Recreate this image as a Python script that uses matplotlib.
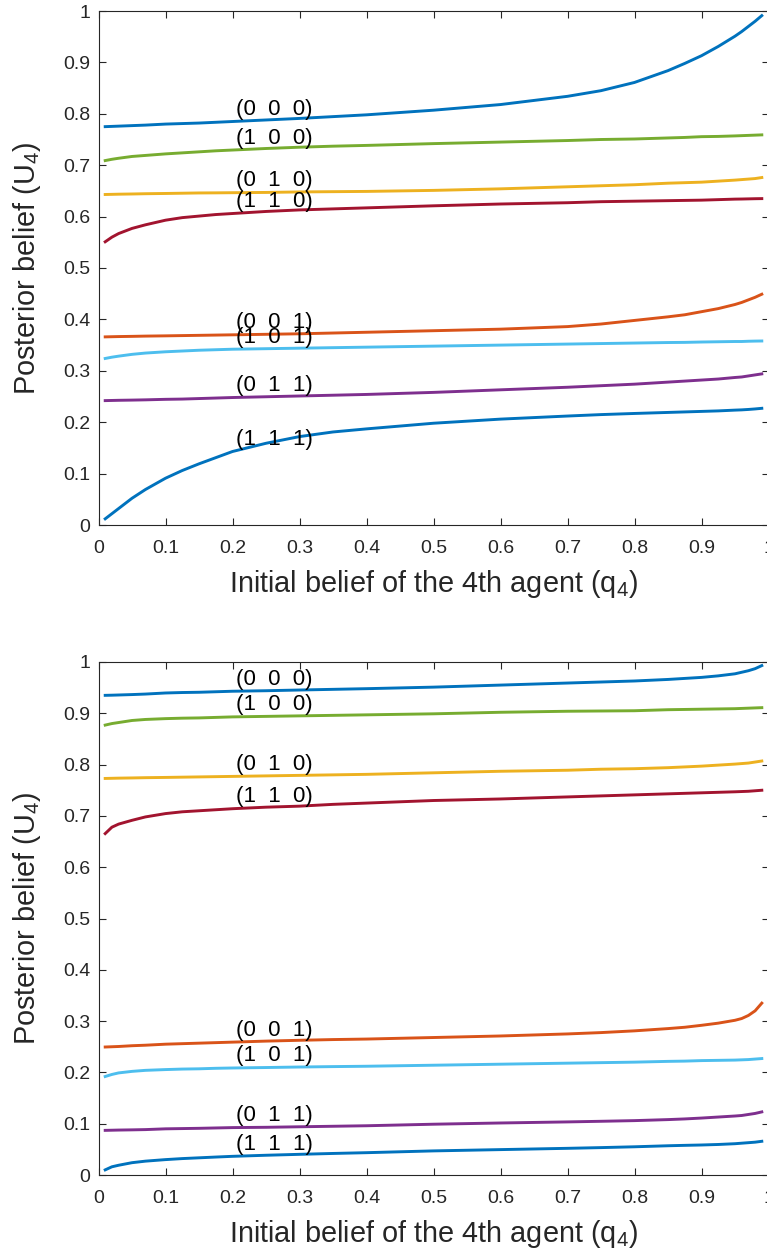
import numpy as np
import matplotlib
matplotlib.use('Agg')
import matplotlib.pyplot as plt

plt.rcParams['font.family'] = ['Liberation Sans', 'DejaVu Sans']
plt.rcParams['mathtext.fontset'] = 'custom'
plt.rcParams['mathtext.rm'] = 'Liberation Sans'

# initial belief q4 where the curves were read
q = [0.01, 0.02, 0.03, 0.05, 0.07, 0.1, 0.125, 0.15, 0.175, 0.2,
     0.25, 0.3, 0.35, 0.4, 0.5, 0.6, 0.7, 0.75, 0.8, 0.85,
     0.875, 0.9, 0.925, 0.95, 0.96, 0.97, 0.98, 0.99]

labels = ['(0  0  0)', '(0  0  1)', '(0  1  0)', '(0  1  1)',
          '(1  0  0)', '(1  0  1)', '(1  1  0)', '(1  1  1)']

# top panel, posterior belief U4
top_000 = [.775, .7755, .776, .777, .778, .780, .781, .782, .7835, .785,
           .788, .791, .7945, .798, .807, .818, .834, .845, .861, .884,
           .898, .913, .931, .951, .960, .970, .980, .991]
top_001 = [.366, .3663, .3666, .367, .3675, .368, .3685, .369, .3695, .370,
           .371, .372, .3735, .375, .378, .381, .386, .391, .398, .405,
           .409, .415, .421, .429, .433, .438, .443, .449]
top_010 = [.643, .6433, .6436, .644, .6445, .645, .6455, .646, .6462, .6465,
           .647, .648, .6485, .649, .651, .654, .658, .660, .662, .665,
           .666, .667, .669, .671, .672, .673, .674, .676]
top_011 = [.242, .2423, .2426, .243, .2435, .2445, .245, .246, .247, .248,
           .2495, .251, .2525, .254, .258, .263, .268, .271, .274, .278,
           .280, .282, .284, .287, .288, .290, .292, .294]
top_100 = [.709, .7115, .7135, .717, .719, .722, .724, .726, .728, .7295,
           .7325, .735, .737, .7385, .742, .745, .748, .750, .751, .753,
           .754, .7555, .756, .757, .7575, .758, .7585, .759]
top_101 = [.324, .3265, .3285, .332, .3345, .337, .3385, .340, .341, .342,
           .343, .344, .345, .346, .348, .350, .352, .353, .354, .355,
           .3553, .356, .3565, .357, .357, .3575, .3578, .358]
top_110 = [.551, .560, .567, .577, .584, .593, .598, .601, .604, .606,
           .610, .613, .615, .617, .621, .6245, .627, .629, .630, .631,
           .6315, .632, .633, .634, .6342, .6345, .6348, .635]
top_111 = [.012, .022, .032, .052, .069, .091, .106, .119, .131, .143,
           .159, .172, .181, .187, .198, .206, .212, .2148, .217, .219,
           .220, .221, .222, .2235, .224, .2248, .2258, .227]

# bottom panel
bot_000 = [.935, .9353, .9357, .9365, .9375, .9396, .9405, .941, .942, .943,
           .944, .9454, .9467, .948, .951, .955, .959, .961, .963, .966,
           .968, .970, .973, .977, .980, .983, .987, .993]
bot_001 = [.2495, .250, .2505, .252, .253, .255, .256, .257, .258, .259,
           .261, .2626, .264, .265, .268, .271, .275, .2776, .281, .2854,
           .288, .2918, .296, .3016, .305, .311, .320, .335]
bot_010 = [.773, .7733, .7736, .774, .7745, .775, .7755, .776, .7765, .777,
           .778, .779, .780, .781, .784, .787, .789, .791, .792, .794,
           .7955, .797, .799, .801, .802, .803, .805, .807]
bot_011 = [.087, .0873, .0876, .088, .0885, .090, .0905, .091, .0917, .0924,
           .093, .094, .095, .096, .099, .1014, .1035, .1047, .106, .108,
           .1093, .111, .113, .115, .116, .118, .120, .123]
bot_100 = [.877, .880, .882, .886, .888, .8896, .8905, .891, .892, .893,
           .894, .895, .896, .897, .899, .902, .904, .9045, .905, .907,
           .9075, .908, .9085, .909, .9095, .910, .9105, .911]
bot_101 = [.192, .196, .199, .202, .204, .2055, .2065, .207, .208, .2086,
           .2095, .2105, .2113, .212, .214, .216, .218, .219, .220, .2215,
           .222, .223, .2235, .224, .2245, .225, .226, .227]
bot_110 = [.6655, .678, .684, .6914, .698, .7045, .708, .710, .712, .714,
           .717, .719, .7225, .725, .730, .733, .737, .739, .741, .743,
           .744, .745, .746, .747, .7475, .748, .749, .750]
bot_111 = [.010, .016, .019, .024, .027, .030, .032, .0335, .035, .0364,
           .0385, .0403, .042, .0435, .047, .0495, .052, .0534, .055, .057,
           .0578, .0585, .0595, .061, .062, .063, .064, .0657]

tick_vals = [0, 0.1, 0.2, 0.3, 0.4, 0.5, 0.6, 0.7, 0.8, 0.9, 1]
tick_labels = ['0', '0.1', '0.2', '0.3', '0.4', '0.5', '0.6', '0.7', '0.8', '0.9', '1']

# matlab default line colour order
colors = ['#0072BD', '#D95319', '#EDB120', '#7E2F8E', '#77AC30', '#4DBEEE', '#A2142F', '#0072BD']
axcol = '#262626'

fig = plt.figure(figsize=(7.67, 12.56), dpi=100)
ax1 = fig.add_axes([98.5/767, (1256-525)/1256., 670/767., 514/1256.])
ax2 = fig.add_axes([98.5/767, (1256-1175)/1256., 670/767., 513/1256.])

panels = [(ax1, [top_000, top_001, top_010, top_011, top_100, top_101, top_110, top_111]),
          (ax2, [bot_000, bot_001, bot_010, bot_011, bot_100, bot_101, bot_110, bot_111])]

i02 = q.index(0.2)
for ax, series in panels:
    for s, c in zip(series, colors):
        ax.plot(q, s, color=c, lw=2.1)
    for s, lbl in zip(series, labels):
        ax.annotate(lbl, (0.2, s[i02]), xytext=(3, 12), textcoords='offset pixels',
                    ha='left', va='center', fontsize=16, color='k')
    ax.set_xlim(0, 1)
    ax.set_ylim(0, 1)
    ax.set_xticks(tick_vals)
    ax.set_xticklabels(tick_labels)
    ax.set_yticks(tick_vals)
    ax.set_yticklabels(tick_labels)
    ax.tick_params(direction='in', length=4.7, width=0.8, top=True, right=True,
                   labelsize=14, colors=axcol)
    ax.tick_params(axis='x', pad=10.5)
    ax.tick_params(axis='y', pad=6)
    for sp in ax.spines.values():
        sp.set_color(axcol)
        sp.set_linewidth(0.8)
    ax.set_xlabel(r'Initial belief of the 4th agent ($\mathregular{q_4}$)', fontsize=20.8,
                  color=axcol, labelpad=8)
    ax.set_ylabel(r'Posterior belief ($\mathregular{U_4}$)', fontsize=20.8,
                  color=axcol, labelpad=14)

plt.savefig('out.png', dpi=100)
